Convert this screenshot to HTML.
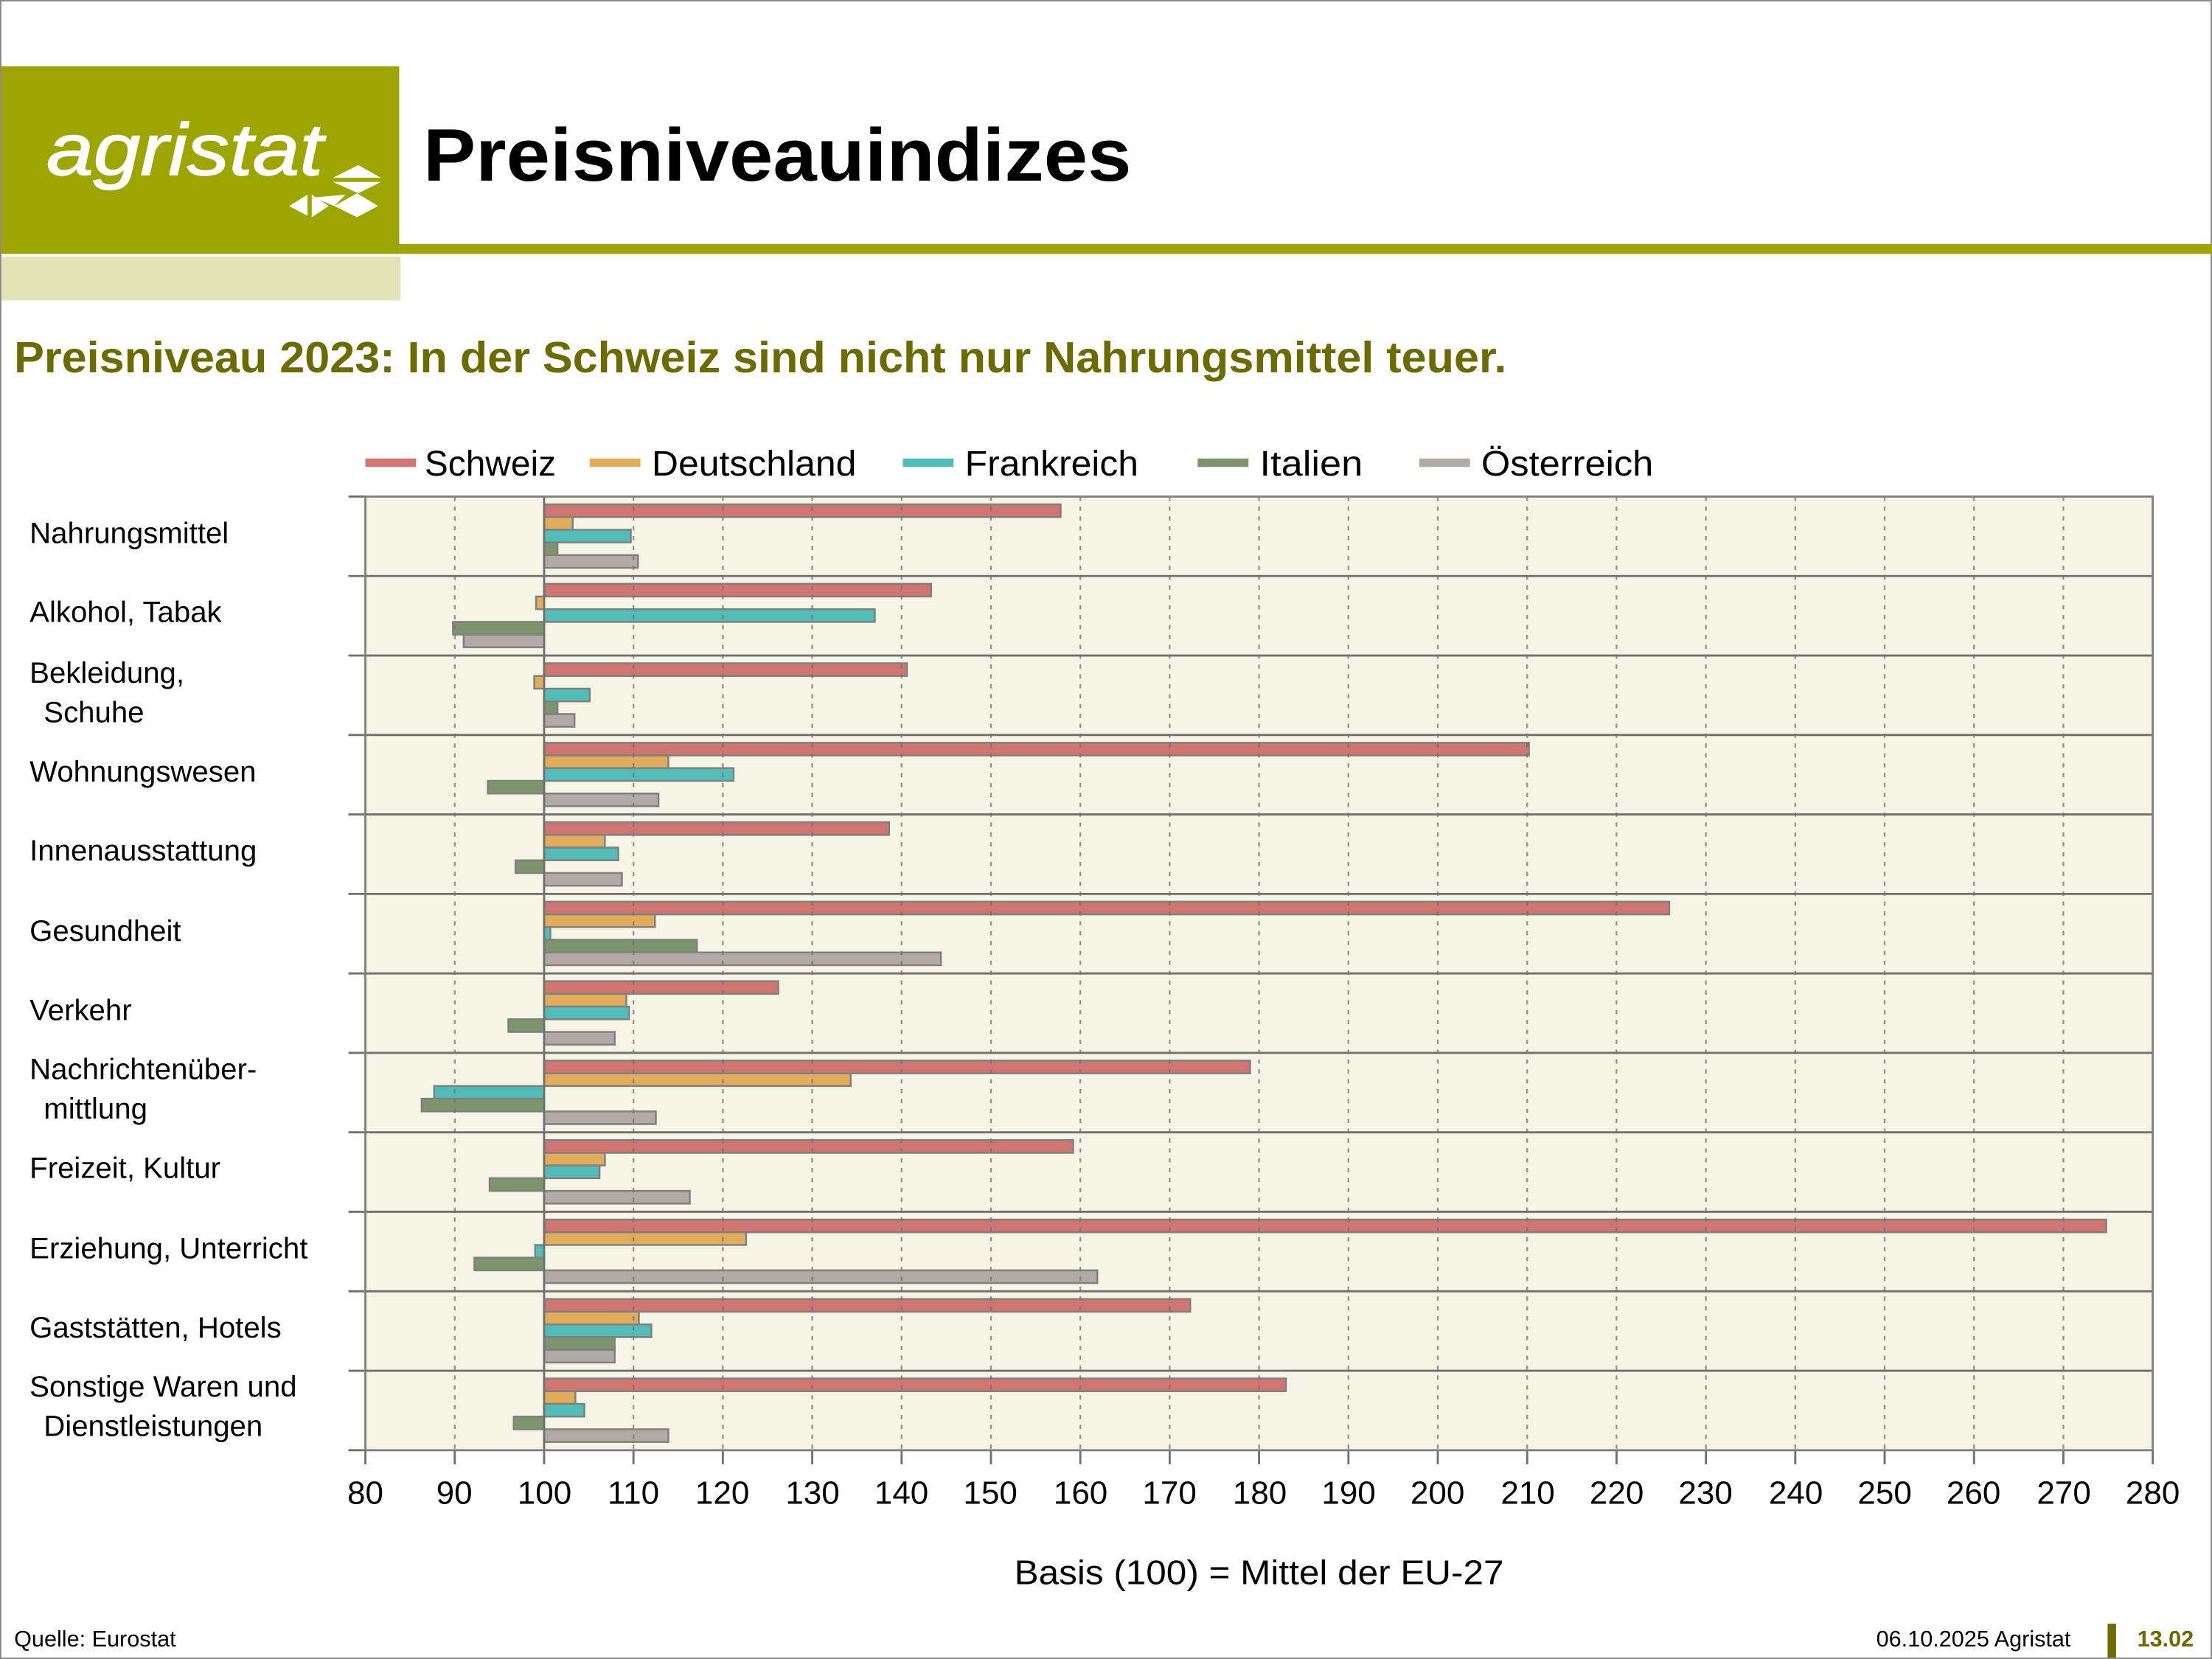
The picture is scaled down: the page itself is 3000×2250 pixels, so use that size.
<!DOCTYPE html>
<html><head><meta charset="utf-8"><style>
html,body{margin:0;padding:0;background:#fff}
svg{display:block}
text{font-family:"Liberation Sans","DejaVu Sans",sans-serif}
</style></head><body>
<svg id="s" width="3000" height="2250" viewBox="0 0 1568 1176" xmlns="http://www.w3.org/2000/svg">
<rect x="0" y="0" width="1568" height="1176" fill="#fff"/>
<rect x="0.5" y="0.5" width="1567" height="1175" fill="none" stroke="#888" stroke-width="1"/>
<rect x="1" y="47" width="282" height="133" fill="#9da600"/>
<rect x="283" y="173" width="1285" height="7" fill="#9da600"/>
<rect x="1" y="182" width="283" height="31" fill="#e2e4b8"/>
<text x="33" y="124" fill="#fff" font-size="52" font-style="italic" stroke="#fff" stroke-width="0.8" textLength="196" lengthAdjust="spacingAndGlyphs">agristat</text>
<g fill="#fff">
<polygon points="236,126 254,117 270,126"/><polygon points="236,129 270,129 254,137"/>
<polygon points="222,140 245,138 237,146"/><polygon points="205,146 218,138 218,153"/>
<polygon points="221,138 233,146 221,154"/><polygon points="237,146 253,137 268,146 253,154"/>
</g>
<text x="300" y="128" font-size="53" font-weight="bold" fill="#000" textLength="502" lengthAdjust="spacingAndGlyphs">Preisniveauindizes</text>
<text x="10" y="264" font-size="31" font-weight="bold" fill="#6b6b00" textLength="1058" lengthAdjust="spacingAndGlyphs">Preisniveau 2023: In der Schweiz sind nicht nur Nahrungsmittel teuer.</text>
<g font-size="25" fill="#000">
<rect x="259" y="325" width="36" height="6" fill="#d07570"/><text x="301" y="337">Schweiz</text>
<rect x="418" y="325" width="36" height="6" fill="#e2ad5a"/><text x="462" y="337" textLength="145" lengthAdjust="spacingAndGlyphs">Deutschland</text>
<rect x="640" y="325" width="36" height="6" fill="#52bdb8"/><text x="684" y="337" textLength="123" lengthAdjust="spacingAndGlyphs">Frankreich</text>
<rect x="849" y="325" width="36" height="6" fill="#7c956c"/><text x="893" y="337" textLength="73" lengthAdjust="spacingAndGlyphs">Italien</text>
<rect x="1006" y="325" width="36" height="6" fill="#b2aaa4"/><text x="1050" y="337" textLength="122" lengthAdjust="spacingAndGlyphs">Österreich</text>
</g>
<rect x="259" y="352" width="1267" height="676" fill="#f5f5e5"/>
<g id="bars"></g>
<g id="grid"></g>
<rect x="259" y="352" width="1267" height="676" fill="none" stroke="#808080" stroke-width="1.5"/>
<g font-size="21" fill="#000">
<text x="21" y="385">Nahrungsmittel</text>
<text x="21" y="441">Alkohol, Tabak</text>
<text x="21" y="484">Bekleidung,</text><text x="31" y="512">Schuhe</text>
<text x="21" y="554">Wohnungswesen</text>
<text x="21" y="610">Innenausstattung</text>
<text x="21" y="667">Gesundheit</text>
<text x="21" y="723">Verkehr</text>
<text x="21" y="765">Nachrichtenüber-</text><text x="31" y="793">mittlung</text>
<text x="21" y="835">Freizeit, Kultur</text>
<text x="21" y="892">Erziehung, Unterricht</text>
<text x="21" y="948">Gaststätten, Hotels</text>
<text x="21" y="990">Sonstige Waren und</text><text x="31" y="1018">Dienstleistungen</text>
</g>
<g font-size="23" fill="#000" text-anchor="middle">
<text x="259" y="1066">80</text><text x="322" y="1066">90</text><text x="386" y="1066">100</text><text x="449" y="1066">110</text><text x="512" y="1066">120</text><text x="576" y="1066">130</text><text x="639" y="1066">140</text><text x="702" y="1066">150</text><text x="766" y="1066">160</text><text x="829" y="1066">170</text><text x="893" y="1066">180</text><text x="956" y="1066">190</text><text x="1019" y="1066">200</text><text x="1083" y="1066">210</text><text x="1146" y="1066">220</text><text x="1209" y="1066">230</text><text x="1273" y="1066">240</text><text x="1336" y="1066">250</text><text x="1399" y="1066">260</text><text x="1463" y="1066">270</text><text x="1526" y="1066">280</text>
</g>
<text x="719" y="1123" font-size="24" textLength="347" lengthAdjust="spacingAndGlyphs">Basis (100) = Mittel der EU-27</text>
<text x="10" y="1167" font-size="16" fill="#000">Quelle: Eurostat</text>
<text x="1330" y="1167" font-size="16" fill="#000">06.10.2025 Agristat</text>
<rect x="1494" y="1151" width="6" height="24" fill="#6b6b00"/>
<text x="1515" y="1167" font-size="16" font-weight="bold" fill="#6b6b00">13.02</text>
</svg>
<script>
var d=[[157.8,103.2,109.7,101.5,110.5],[143.3,99.1,137,89.8,91],[140.6,98.9,105.1,101.5,103.4],[210.2,113.9,121.2,93.7,112.8],[138.6,106.8,108.3,96.8,108.7],[225.9,112.4,100.7,117.1,144.4],[126.2,109.2,109.5,96,107.9],[179,134.3,87.7,86.3,112.5],[159.2,106.8,106.2,93.9,116.3],[274.8,122.6,99,92.2,161.9],[172.3,110.6,112,107.9,107.9],[183,103.5,104.5,96.6,113.9]];
var c=["#d07570","#e2ad5a","#52bdb8","#7c956c","#b2aaa4"];
var ns="http://www.w3.org/2000/svg";
function X(v){return 259+(v-80)*6.335;}
var b=document.getElementById("bars"),g=document.getElementById("grid");
var ch=676/12;
d.forEach(function(r,i){r.forEach(function(v,j){var e=document.createElementNS(ns,"rect");var x0=X(100),x1=X(v);
e.setAttribute("x",Math.min(x0,x1));e.setAttribute("width",Math.abs(x1-x0));e.setAttribute("y",352+i*ch+5.5+j*9);e.setAttribute("height",9);
e.setAttribute("fill",c[j]);e.setAttribute("stroke","#808080");e.setAttribute("stroke-width","1.3");b.appendChild(e);});});
function L(x1,y1,x2,y2,da,w){var e=document.createElementNS(ns,"line");e.setAttribute("x1",x1);e.setAttribute("y1",y1);e.setAttribute("x2",x2);e.setAttribute("y2",y2);e.setAttribute("stroke","#707070");e.setAttribute("stroke-width",w||1.2);if(da)e.setAttribute("stroke-dasharray",da);e.setAttribute("stroke-opacity",da?0.75:1);g.appendChild(e);}
for(var v=90;v<280;v+=10){if(v==100)continue;L(X(v),352,X(v),1028,"3,4");}
L(X(100),352,X(100),1028,null,1.5);
for(var i=1;i<12;i++){L(247,352+i*ch,1526,352+i*ch,null,1.5);}
L(247,352,259,352,null,1.5);L(247,1028,259,1028,null,1.5);
for(var v=80;v<=280;v+=10){L(X(v),1028,X(v),1038,null,1.5);}
</script>
</body></html>
